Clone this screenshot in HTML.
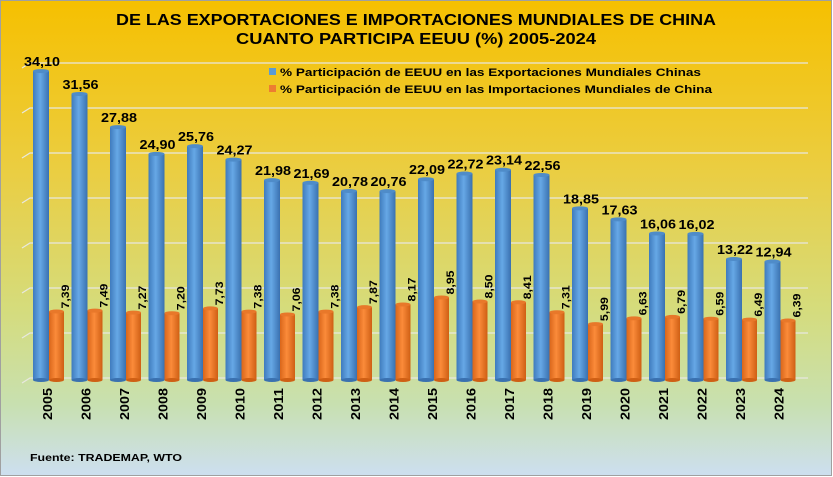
<!DOCTYPE html>
<html><head><meta charset="utf-8"><style>
html,body{margin:0;padding:0;background:#fff}
svg{display:block}
text{font-family:"Liberation Sans",Arial,sans-serif;font-weight:bold;fill:#000}
</style></head><body>
<svg id="c" width="833" height="477" viewBox="0 0 833 477" xmlns="http://www.w3.org/2000/svg">
<defs>
<linearGradient id="bg" x1="0" y1="0" x2="0" y2="1">
<stop offset="0" stop-color="#f6c000"/>
<stop offset="0.35" stop-color="#ebcd40"/>
<stop offset="0.65" stop-color="#d5dc7c"/>
<stop offset="0.85" stop-color="#c8e0b0"/>
<stop offset="1" stop-color="#cddff0"/>
</linearGradient>
<linearGradient id="bl" x1="0" y1="0" x2="1" y2="0">
<stop offset="0" stop-color="#3f7bbd"/><stop offset="0.45" stop-color="#66a8e6"/><stop offset="1" stop-color="#3a71b0"/>
</linearGradient>
<linearGradient id="or" x1="0" y1="0" x2="1" y2="0">
<stop offset="0" stop-color="#d9661a"/><stop offset="0.45" stop-color="#fb8b3a"/><stop offset="1" stop-color="#cf5f14"/>
</linearGradient>
</defs>
<rect x="0.5" y="0.5" width="831" height="475" fill="url(#bg)" stroke="#a0a0a0"/>
<g id="grid" stroke="#e8e8e0" stroke-width="1.2" fill="none"></g>
<g id="bars"></g>
<text x="416" y="25" font-size="15.5" text-anchor="middle" textLength="600" lengthAdjust="spacingAndGlyphs">DE LAS EXPORTACIONES E IMPORTACIONES MUNDIALES DE CHINA</text>
<text x="416" y="44" font-size="15.5" text-anchor="middle" textLength="360" lengthAdjust="spacingAndGlyphs">CUANTO PARTICIPA EEUU (%) 2005-2024</text>
<rect x="269" y="68" width="7" height="7" fill="#5b9bd5"/>
<rect x="269" y="85" width="7" height="7" fill="#ed7d31"/>
<text x="280" y="76" font-size="11" textLength="421" lengthAdjust="spacingAndGlyphs">% Participación de EEUU en las Exportaciones Mundiales Chinas</text>
<text x="280" y="93" font-size="11" textLength="432" lengthAdjust="spacingAndGlyphs">% Participación de EEUU en las Importaciones Mundiales de China</text>
<text x="30" y="461" font-size="10.5" textLength="152" lengthAdjust="spacingAndGlyphs">Fuente: TRADEMAP,  WTO</text>
</svg>
<script>
var ex=[34.10,31.56,27.88,24.90,25.76,24.27,21.98,21.69,20.78,20.76,22.09,22.72,23.14,22.56,18.85,17.63,16.06,16.02,13.22,12.94];
var im=[7.39,7.49,7.27,7.20,7.73,7.38,7.06,7.38,7.87,8.17,8.95,8.50,8.41,7.31,5.99,6.63,6.79,6.59,6.49,6.39];
var NS="http://www.w3.org/2000/svg",floor=378,k=9;
function el(t,a,p,txt){var e=document.createElementNS(NS,t);for(var i in a)e.setAttribute(i,a[i]);if(txt)e.textContent=txt;p.appendChild(e);return e;}
var g=document.getElementById('grid'),b=document.getElementById('bars');
for(var i=0;i<8;i++){var y=floor-45*i;el('path',{d:'M22 '+(y+5)+' L30 '+y+' L808 '+y},g);}
function f(v){return v.toFixed(2).replace('.',',');}
for(var i=0;i<20;i++){
 var x=33+i*38.5;
 var hb=ex[i]*k, yb=floor-hb;
 el('rect',{x:x,y:yb,width:16,height:hb+2,fill:'url(#bl)'},b);
 el('ellipse',{cx:x+8,cy:yb,rx:8,ry:2,fill:'#4f8cc9'},b);
 var ho=im[i]*k, yo=floor-ho;
 el('rect',{x:x+16,y:yo,width:15,height:ho+2,fill:'url(#or)'},b);
 el('ellipse',{cx:x+23.5,cy:yo,rx:7.5,ry:2,fill:'#e8782a'},b);
 el('ellipse',{cx:x+8,cy:floor+2,rx:8,ry:2,fill:'#3a71b0'},b);
 el('ellipse',{cx:x+23.5,cy:floor+2,rx:7.5,ry:2,fill:'#cf5f14'},b);
 el('text',{x:x+9,y:yb-5,'font-size':12.5,'text-anchor':'middle',textLength:36,lengthAdjust:'spacingAndGlyphs'},b,f(ex[i]));
 var tx=x+36,ty=yo-3;
 el('text',{x:tx,y:ty,'font-size':11,transform:'rotate(-90 '+tx+' '+ty+')',textLength:24,lengthAdjust:'spacingAndGlyphs'},b,f(im[i]));
 var lx=x+19,ly=388;
 el('text',{x:lx,y:ly,'font-size':12.5,'text-anchor':'end',transform:'rotate(-90 '+lx+' '+ly+')',textLength:32,lengthAdjust:'spacingAndGlyphs'},b,String(2005+i));
}
</script>
</body></html>
